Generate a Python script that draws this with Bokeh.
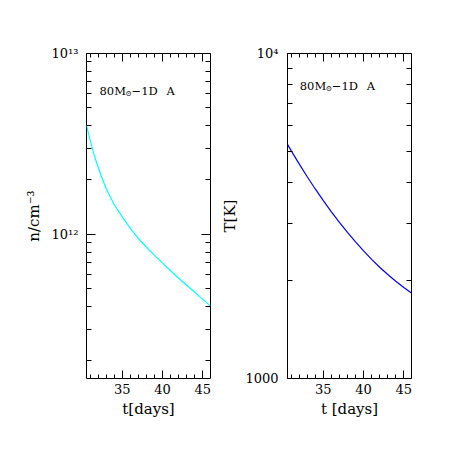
import math
from bokeh.plotting import figure
from bokeh.layouts import row
from bokeh.models import (FixedTicker, LinearAxis, LogAxis, Label, Range1d,
                          CustomJSTickFormatter)
from bokeh.embed import file_html
from bokeh.resources import INLINE

# ---- data ----
t_days = [30.55, 31.0, 31.5, 32.0, 32.5, 33.0, 34.0, 35.0, 36.0, 37.0, 38.0,
          39.0, 40.0, 41.0, 42.0, 43.0, 44.0, 45.0, 45.95]
n_dens = [4.01e12, 3.32e12, 2.75e12, 2.35e12, 2.04e12, 1.79e12, 1.46e12, 1.25e12,
          1.08e12, 9.50e11, 8.50e11, 7.66e11, 6.94e11, 6.30e11, 5.73e11, 5.24e11,
          4.79e11, 4.38e11, 4.03e11]

t_days_T = [30.57, 31.0, 32.0, 33.0, 34.0, 35.0, 36.0, 37.0, 38.0, 39.0, 40.0,
            41.0, 42.0, 43.0, 44.0, 45.0, 45.94]
temp_K = [5243, 5027, 4574, 4177, 3830, 3525, 3258, 3022, 2814, 2632, 2469,
          2326, 2200, 2089, 1991, 1905, 1834]

x_limits = (30.55, 45.95)
x_major = [35, 40, 45]
x_minor = list(range(31, 46))

n_limits = (1.6e11, 1e13)
n_major = [1e12, 1e13]
n_major_labels = ["10¹²", "10¹³"]
n_minor = [2e11, 3e11, 4e11, 5e11, 6e11, 7e11, 8e11, 9e11,
           2e12, 3e12, 4e12, 5e12, 6e12, 7e12, 8e12, 9e12]

T_limits = (1000, 10000)
T_major = [1000, 10000]
T_major_labels = ["1000", "10⁴"]
T_minor = [2000, 3000, 4000, 5000, 6000, 7000, 8000, 9000]

model_text = ["80M", "⊙", "−1D", "A"]

FONT = "DejaVu Serif"
FW, FH = 124, 325
BLANK = CustomJSTickFormatter(code="return ''")


def style_axis(ax, labels=True, major_len=8, minor_len=4):
    ax.major_tick_in = major_len
    ax.major_tick_out = 0
    ax.minor_tick_in = minor_len
    ax.minor_tick_out = 0
    ax.axis_line_color = None
    ax.major_tick_line_color = "black"
    ax.minor_tick_line_color = "black"
    ax.major_tick_line_width = 1
    ax.minor_tick_line_width = 1
    ax.major_label_text_font = FONT
    ax.major_label_text_color = "black"
    ax.major_label_text_font_size = "13px"
    if not labels:
        ax.formatter = BLANK
        ax.major_label_standoff = 0
    ax.axis_label_text_font = FONT
    ax.axis_label_text_font_size = "15px"
    ax.axis_label_text_font_style = "normal"
    ax.axis_label_text_color = "black"


def make_panel(xs, ys, color, y_limits, y_major, y_labels, y_minor,
               x_label, y_label, bl, br, y_std, lab_std):
    p = figure(frame_width=FW, frame_height=FH,
               x_range=Range1d(*x_limits), y_range=Range1d(*y_limits),
               y_axis_type="log", output_backend="svg", toolbar_location=None,
               min_border_left=bl, min_border_right=br,
               min_border_top=53, min_border_bottom=62)
    p.grid.visible = False
    p.outline_line_color = "black"
    p.outline_line_width = 1
    p.background_fill_color = "white"
    p.border_fill_color = "white"

    xt = FixedTicker(ticks=x_major, minor_ticks=x_minor)
    yt = FixedTicker(ticks=y_major, minor_ticks=y_minor)
    overrides = {float(v): s for v, s in zip(y_major, y_labels)}

    xa = p.xaxis[0]
    xa.ticker = xt
    xa.axis_label = x_label
    style_axis(xa, True, 8, 4)
    xa.major_label_standoff = 5
    xa.axis_label_standoff = 3

    ya = p.yaxis[0]
    ya.ticker = yt
    ya.axis_label = y_label
    ya.major_label_overrides = overrides
    style_axis(ya, True, 9, 5)
    ya.major_label_standoff = y_std
    ya.axis_label_standoff = lab_std

    top = LinearAxis(ticker=xt)
    style_axis(top, False, 8, 4)
    p.add_layout(top, "above")

    right = LogAxis(ticker=yt)
    style_axis(right, False, 9, 5)
    p.add_layout(right, "right")

    p.line(xs, ys, line_color=color, line_width=1.2)
    return p


def fx(dx):
    # frame pixel offset from left -> data x
    return x_limits[0] + dx / FW * (x_limits[1] - x_limits[0])


def fy(dy, lim):
    # frame pixel offset from top -> data y (log axis)
    lo, hi = math.log10(lim[0]), math.log10(lim[1])
    return 10 ** (hi - dy / FH * (hi - lo))


def add_model_text(p, lim, x0, base):
    offs = [0, 26.0, 32.0, 67.0]
    for i, (txt, dx) in enumerate(zip(model_text, offs)):
        if i == 1:
            p.add_layout(Label(x=fx(x0 + dx), y=fy(base + 1.8, lim), text=txt,
                               text_font=FONT, text_font_size="7.5px",
                               text_baseline="middle", text_color="black"))
        else:
            p.add_layout(Label(x=fx(x0 + dx), y=fy(base, lim), text=txt,
                               text_font=FONT, text_font_size="11.5px",
                               text_baseline="alphabetic", text_color="black"))


p1 = make_panel(t_days, n_dens, "#00FFFF", n_limits, n_major, n_major_labels,
                n_minor, "t[days]", "n/cm⁻³", 86, 7, 8, 6)
p2 = make_panel(t_days_T, temp_K, "#0000FF", T_limits, T_major, T_major_labels,
                T_minor, "t [days]", "T[K]", 70, 44, 9, 3)

add_model_text(p1, n_limits, 13, 37.7)
add_model_text(p2, T_limits, 12.3, 32.7)

layout = row(p1, p2)
open("out.html", "w").write(file_html(layout, INLINE))
